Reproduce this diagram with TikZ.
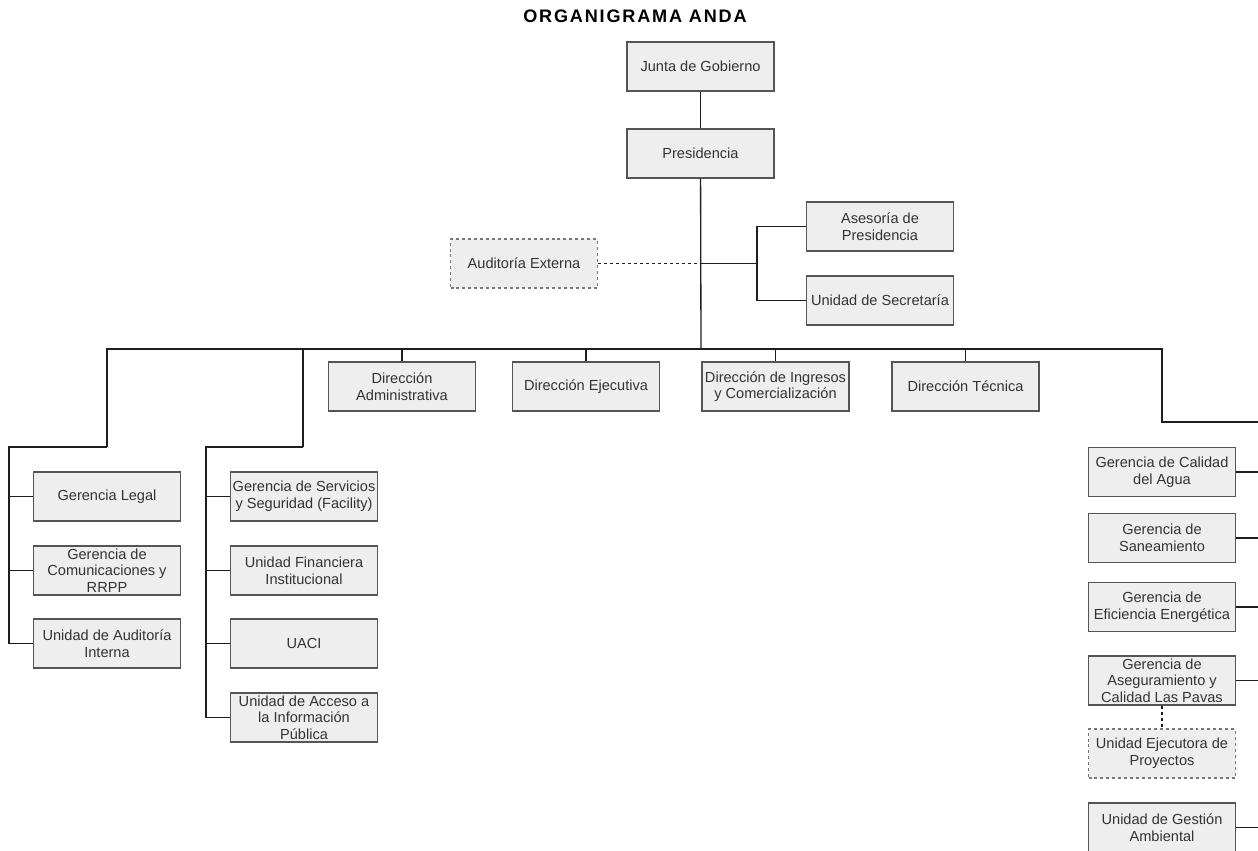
\documentclass[tikz,border=0pt]{standalone}
\usepackage{fontspec}
\setmainfont{Liberation Sans}
\newfontfamily\titulofont[LetterSpace=10]{Liberation Sans}

\begin{document}
\begin{tikzpicture}[x=0.02cm, y=-0.02cm,
        caja/.style={draw=bordegris, fill=rellenogris, line width=0.7pt, text=textogris,
            minimum width=2.94cm, minimum height=0.98cm, inner sep=0pt, align=center,
            font=\fontsize{8.3}{9.5}\selectfont},
        cajapunteada/.style={caja, draw=bordeclaro, dash pattern=on 1.7pt off 1.7pt},
        linea/.style={draw=lineanegra, line width=0.75pt},
        lineapunteada/.style={linea, dash pattern=on 1.7pt off 1.7pt}]
        % Definición de colores
        \definecolor{rellenogris}{RGB}{238, 238, 238}
        \definecolor{bordegris}{RGB}{85, 85, 85}
        \definecolor{bordeclaro}{RGB}{120, 120, 120}
        \definecolor{textogris}{RGB}{51, 51, 51}
        \definecolor{lineanegra}{RGB}{30, 30, 30}

        % Marco de la imagen
        \useasboundingbox (0,0) rectangle (1258,851);

        % Título
        \node[anchor=base, font=\titulofont\fontsize{10.3}{12}\selectfont\bfseries] (titulo) at (635,23) {ORGANIGRAMA ANDA};

        % Niveles superiores
        \node[caja] (junta) at (700.5,66.5) {Junta de Gobierno};
        \node[caja] (pres) at (700.5,153.5) {Presidencia};
        \node[cajapunteada] (audext) at (524,263.5) {Auditoría Externa};
        \node[caja] (asesoria) at (880,226.5) {Asesoría de\\Presidencia};
        \node[caja] (secret) at (880,300.5) {Unidad de Secretaría};

        % Direcciones
        \node[caja] (diradm) at (402,386.5) {Dirección\\Administrativa};
        \node[caja] (direje) at (586,386.5) {Dirección Ejecutiva};
        \node[caja] (dirin) at (775.5,386.5) {Dirección de Ingresos\\y Comercialización};
        \node[caja] (dirtec) at (965.5,386.5) {Dirección Técnica};

        % Rama izquierda
        \node[caja] (legal) at (107,496.5) {Gerencia Legal};
        \node[caja] (comun) at (107,570.5) {Gerencia de\\Comunicaciones y\\RRPP};
        \node[caja] (audint) at (107,643.5) {Unidad de Auditoría\\Interna};

        % Segunda rama
        \node[caja] (serv) at (304,496.5) {Gerencia de Servicios\\y Seguridad (Facility)};
        \node[caja] (finan) at (304,570.5) {Unidad Financiera\\Institucional};
        \node[caja] (uaci) at (304,643.5) {UACI};
        \node[caja] (acceso) at (304,717.5) {Unidad de Acceso a\\la Información\\Pública};

        % Rama derecha
        \node[caja] (calidad) at (1162,472) {Gerencia de Calidad\\del Agua};
        \node[caja] (sanea) at (1162,538) {Gerencia de\\Saneamiento};
        \node[caja] (efic) at (1162,607) {Gerencia de\\Eficiencia Energética};
        \node[caja] (pavas) at (1162,680.5) {Gerencia de\\Aseguramiento y\\Calidad Las Pavas};
        \node[cajapunteada] (ejec) at (1162,753.5) {Unidad Ejecutora de\\Proyectos};
        \node[caja] (gestion) at (1162,827.5) {Unidad de Gestión\\Ambiental};

        % Puntos de quiebre de las líneas
        \coordinate (bus) at (701,349);
        \coordinate (codoA) at (757,263.5);
        \coordinate (codoL) at (107,447);
        \coordinate (ejeL) at (9,447);
        \coordinate (codoS) at (303,447);
        \coordinate (ejeS) at (206,447);
        \coordinate (codoR) at (1162,422);
        \coordinate (ejeR) at (1258,422);

        % Conectores
        \draw[linea] (junta) -- (pres);
        \draw[linea] (pres) -- (bus);
        \draw[lineapunteada] (audext.east) -- (audext.east -| pres.south);
        \draw[linea] (audext.east -| pres.south) -- (codoA);
        \draw[linea] (asesoria.west) -| (codoA) |- (secret.west);
        \draw[linea] (codoL) |- (bus) -| (codoR) -- (ejeR);
        \draw[linea] (codoS) -- (codoS |- bus);
        \foreach \d in {diradm, direje, dirin, dirtec}
            \draw[linea] (\d.north |- bus) -- (\d.north);
        \draw[linea] (codoL) -- (ejeL) |- (audint.west);
        \foreach \c in {legal, comun}
            \draw[linea] (ejeL |- \c.west) -- (\c.west);
        \draw[linea] (codoS) -- (ejeS) |- (acceso.west);
        \foreach \c in {serv, finan, uaci}
            \draw[linea] (ejeS |- \c.west) -- (\c.west);
        \foreach \c in {calidad, sanea, efic, pavas, gestion}
            \draw[linea] (\c.east) -- (\c.east -| ejeR);
        \draw[lineapunteada] (pavas) -- (ejec);
    \end{tikzpicture}
\end{document}
